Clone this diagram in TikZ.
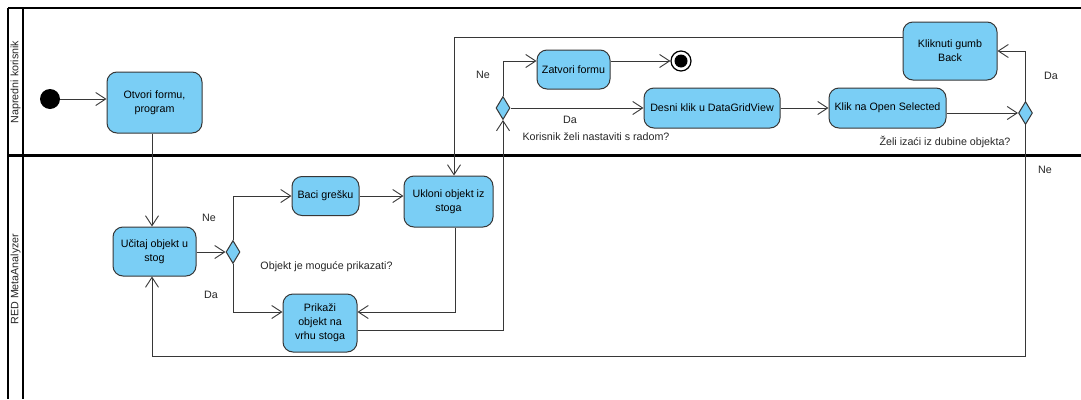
\documentclass[tikz,border=0pt]{standalone}
\usepackage{fontspec}
\setmainfont{Liberation Sans}
\usetikzlibrary{arrows.meta,shapes.geometric}
\definecolor{actfill}{RGB}{122,206,245}
\definecolor{linec}{RGB}{55,55,55}
\begin{document}
\begin{tikzpicture}[x=1pt,y=-1pt,
  act/.style={rectangle, rounded corners=10pt, draw=linec, line width=1pt, fill=actfill, align=center, inner sep=2pt, font=\fontsize{10.7}{14}\selectfont},
  dec/.style={diamond, draw=linec, line width=1pt, fill=actfill, inner sep=0pt, minimum width=14pt, minimum height=23pt},
  conn/.style={draw=linec, line width=0.9pt},
  flow/.style={conn, -{Straight Barb[length=10pt,width=13pt,line width=0.9pt]}},
  lbl/.style={font=\fontsize{10.7}{14}\selectfont, inner sep=0pt, text=black!85},
  lane/.style={line width=2pt, black}]
\useasboundingbox (0,0) rectangle (1081,399);
\fill[white] (0,0) rectangle (1081,399);
% swimlanes
\draw[lane] (8,8) -- (1081,8);
\draw[lane] (8,8) -- (8,399);
\draw[lane] (23,8) -- (23,399);
\draw[line width=3pt] (8,155.5) -- (1081,155.5);
\node[lbl, rotate=90] (lane1) at (15.5,82) {Napredni korisnik};
\node[lbl, rotate=90] (lane2) at (15.5,279) {RED MetaAnalyzer};
% nodes
\node[circle, fill=black, minimum size=20pt, inner sep=0pt] (start) at (50,99) {};
\node[act, minimum width=95pt, minimum height=61pt] (otvori) at (154.5,102.5) {Otvori formu,\\program};
\node[act, minimum width=83pt, minimum height=49pt] (ucitaj) at (154.5,251.5) {Učitaj objekt u\\stog};
\node[dec] (d1) at (233,252) {};
\node[act, minimum width=67pt, minimum height=39pt] (baci) at (325.5,196) {Baci grešku};
\node[act, minimum width=89pt, minimum height=51pt] (ukloni) at (448.5,201.5) {Ukloni objekt iz\\stoga};
\node[act, minimum width=74pt, minimum height=58pt] (prikazi) at (320,323) {Prikaži\\objekt na\\vrhu stoga};
\node[dec] (d2) at (503,108) {};
\node[act, minimum width=73pt, minimum height=39pt] (zatvori) at (573.5,69.5) {Zatvori formu};
\node[circle, draw=black, line width=1.2pt, fill=white, minimum size=20pt, inner sep=0pt] (end) at (681,61) {};
\node[circle, fill=black, minimum size=13pt, inner sep=0pt] (endin) at (end.center) {};
\node[act, minimum width=136pt, minimum height=40pt] (desni) at (712,108) {Desni klik u DataGridView};
\node[act, minimum width=117pt, minimum height=40pt] (klik) at (887.5,108) {Klik na Open Selected};
\node[dec] (d3) at (1025.5,113) {};
\node[act, minimum width=94pt, minimum height=58pt] (back) at (950,51) {Kliknuti gumb\\Back};
\coordinate (loopy) at (0,356);
% labels
\node[lbl] (ne1) at (209,218) {Ne};
\node[lbl] (da1) at (211,295) {Da};
\node[lbl] (q1) at (326.5,267) {Objekt je moguće prikazati?};
\node[lbl] (ne2) at (483,75) {Ne};
\node[lbl] (da2) at (570,120) {Da};
\node[lbl] (q2) at (596,137) {Korisnik želi nastaviti s radom?};
\node[lbl] (da3) at (1051,76) {Da};
\node[lbl] (ne3) at (1045,170) {Ne};
\node[lbl] (q3) at (945,142) {Želi izaći iz dubine objekta?};
% connectors
\draw[flow] (start.east) -- (otvori.west |- start.east);
\draw[flow] ([xshift=-2.5pt]otvori.south) -- ([xshift=-2.5pt]ucitaj.north);
\draw[flow] (ucitaj.east |- d1.west) -- (d1.west);
\draw[flow] (d1.north) |- (baci.west);
\draw[flow] (baci.east) -- (baci.east -| ukloni.west);
\draw[flow] (d1.south) |- ([yshift=11pt]prikazi.west);
\draw[flow] ([xshift=6.5pt]ukloni.south) |- ([yshift=11pt]prikazi.east);
\draw[flow] ([yshift=-7pt]prikazi.east) -| (d2.south);
\draw[flow] (d2.north) |- ([yshift=8.5pt]zatvori.west);
\draw[flow] ([yshift=8.5pt]zatvori.east) -- (end.west);
\draw[flow] (d2.east) -- (desni.west);
\draw[flow] (desni.east) -- (klik.west);
\draw[flow] (d3.west -| klik.east) -- (d3.west);
\draw[flow] (d3.north) |- (back.east);
\draw[flow] ([yshift=14pt]back.west) -| ([xshift=5.5pt]ukloni.north);
\draw[flow] (d3.south) -- (d3.south |- loopy) -| ([xshift=-2.5pt]ucitaj.south);
\end{tikzpicture}
\end{document}
